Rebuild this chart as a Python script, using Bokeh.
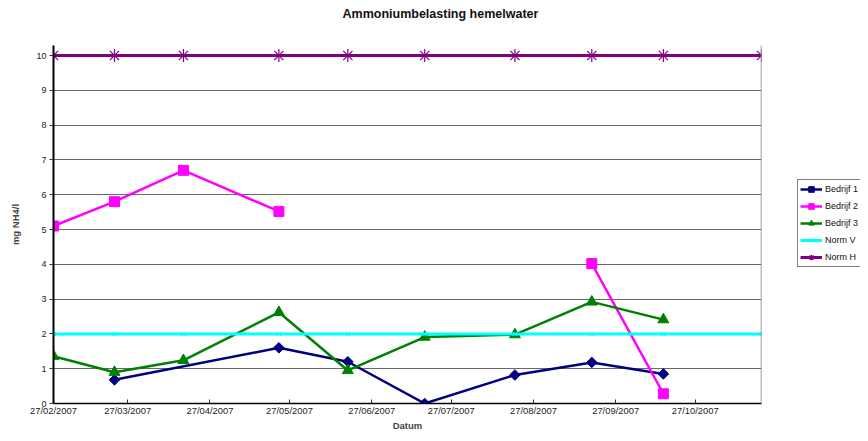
import math
import pandas as pd
from bokeh.plotting import figure
from bokeh.layouts import row
from bokeh.models import (Range1d, FixedTicker, DatetimeTickFormatter, Legend,
                          LegendItem, Title, Span)
from bokeh.embed import file_html
from bokeh.resources import INLINE

# ---------------- data ----------------
chart_title = "Ammoniumbelasting hemelwater"
x_label = "Datum"
y_label = "mg NH4/l"

b1_dates = ["2007-03-22", "2007-05-23", "2007-06-18", "2007-07-17",
            "2007-08-20", "2007-09-18", "2007-10-15"]
b1_vals = [0.68, 1.60, 1.20, 0.00, 0.82, 1.18, 0.85]

b2_dates = ["2007-02-27", "2007-03-22", "2007-04-17", "2007-05-23",
            "2007-06-18", "2007-09-18", "2007-10-15"]
b2_vals = [5.10, 5.80, 6.70, 5.52, float("nan"), 4.02, 0.28]

b3_dates = ["2007-02-27", "2007-03-22", "2007-04-17", "2007-05-23",
            "2007-06-18", "2007-07-17", "2007-08-20", "2007-09-18",
            "2007-10-15"]
b3_vals = [1.36, 0.90, 1.24, 2.62, 0.95, 1.91, 1.98, 2.92, 2.41]

norm_dates = ["2007-02-27", "2007-03-22", "2007-04-17", "2007-05-23",
              "2007-06-18", "2007-07-17", "2007-08-20", "2007-09-18",
              "2007-10-15", "2007-11-21"]
normv_vals = [2, 2, 2, 2, 2, 2, 2, 2, 2, 2]
normh_vals = [10, 10, 10, 10, 10, 10, 10, 10, 10, 10]

x_tick_dates = ["2007-02-27", "2007-03-27", "2007-04-27", "2007-05-27",
                "2007-06-27", "2007-07-27", "2007-08-27", "2007-09-27",
                "2007-10-27"]
y_ticks = [0, 1, 2, 3, 4, 5, 6, 7, 8, 9, 10]

series_names = ["Bedrijf 1", "Bedrijf 2", "Bedrijf 3", "Norm V", "Norm H"]
series_colors = ["#000080", "#FF00FF", "#008000", "#00FFFF", "#800080"]


def to_dt(lst):
    return pd.to_datetime(lst)


def to_ms(lst):
    return [pd.Timestamp(d).timestamp() * 1000.0 for d in lst]


FONT = "Liberation Sans"
W_MAIN, W_LEG, H = 790, 70, 433
FRAME_L, FRAME_R, FRAME_T0, FRAME_B = 53, 761, 55, 403
unit_px = (FRAME_B - FRAME_T0) / (y_ticks[-1] - y_ticks[0])
top_pad_px = 10                       # room so the top markers are not cut
y_end = y_ticks[-1] + top_pad_px / unit_px

x_end_ms = to_ms([norm_dates[-1]])[0]

p = figure(width=W_MAIN, height=H, x_axis_type="datetime",
           output_backend="svg", toolbar_location=None,
           x_range=Range1d(start=to_ms([x_tick_dates[0]])[0], end=x_end_ms),
           y_range=Range1d(start=y_ticks[0], end=y_end),
           min_border_left=FRAME_L, min_border_right=W_MAIN - FRAME_R,
           min_border_top=5, min_border_bottom=H - FRAME_B)

p.background_fill_color = "white"
p.border_fill_color = "white"
p.outline_line_color = None

p.xgrid.visible = False
p.ygrid.grid_line_color = "#6a6a6a"
p.ygrid.grid_line_width = 1
p.ygrid.ticker = FixedTicker(ticks=y_ticks)

# right border of the plot area
p.add_layout(Span(location=x_end_ms, dimension="height",
                  line_color="#808080", line_width=1.5))

# y axis
p.yaxis.ticker = FixedTicker(ticks=y_ticks)
p.yaxis.major_tick_out = 4
p.yaxis.major_tick_in = 0
p.yaxis.minor_tick_out = 0
p.yaxis.minor_tick_in = 0
p.yaxis.axis_line_color = "black"
p.yaxis.axis_line_width = 2
p.yaxis.major_tick_line_color = "#333333"
p.yaxis.major_label_text_font = FONT
p.yaxis.major_label_text_font_size = "9px"
p.yaxis.major_label_text_color = "#222222"
p.yaxis.major_label_standoff = 3
p.yaxis.axis_label = y_label
p.yaxis.axis_label_text_font = FONT
p.yaxis.axis_label_text_font_style = "bold"
p.yaxis.axis_label_text_font_size = "9.5px"
p.yaxis.axis_label_standoff = 12

# x axis
p.xaxis.ticker = FixedTicker(ticks=to_ms(x_tick_dates))
fmt = "%d/%m/%Y"
p.xaxis.formatter = DatetimeTickFormatter(
    microseconds=fmt, milliseconds=fmt, seconds=fmt, minsec=fmt,
    minutes=fmt, hourmin=fmt, hours=fmt, days=fmt, months=fmt, years=fmt)
p.xaxis.major_tick_in = 4
p.xaxis.major_tick_out = 0
p.xaxis.minor_tick_in = 0
p.xaxis.minor_tick_out = 0
p.xaxis.axis_line_color = "black"
p.xaxis.axis_line_width = 1.5
p.xaxis.major_tick_line_color = "#333333"
p.xaxis.major_label_text_font = FONT
p.xaxis.major_label_text_font_size = "9.4px"
p.xaxis.major_label_text_color = "#222222"
p.xaxis.major_label_standoff = 1
p.xaxis.axis_label = x_label
p.xaxis.axis_label_text_font = FONT
p.xaxis.axis_label_text_font_style = "bold"
p.xaxis.axis_label_text_font_size = "9.5px"
p.xaxis.axis_label_standoff = 1

# ---- series ----
series = [
    (b1_dates, b1_vals, dict(marker="square", angle=math.pi / 4, size=7.5), 2.5),
    (b2_dates, b2_vals, dict(marker="square", size=10), 2.5),
    (b3_dates, b3_vals, dict(marker="triangle", size=11), 2.5),
    (norm_dates, normv_vals, dict(marker="x", size=6, line_width=1), 3),
    (norm_dates, normh_vals, dict(marker="asterisk", size=13, line_width=1.2), 3),
]

# side figure that only holds the legend (outside the plot area);
# its ranges are far from the data, so its glyphs only show in the legend
q = figure(width=W_LEG, height=H, output_backend="svg", toolbar_location=None,
           x_axis_location=None, y_axis_location=None,
           x_range=Range1d(0, 1), y_range=Range1d(0, 1),
           min_border_left=0, min_border_right=0, min_border_top=0,
           min_border_bottom=0)
q.outline_line_color = None
q.xgrid.visible = False
q.ygrid.visible = False
q.background_fill_color = "white"
q.border_fill_color = "white"

items = []
for (dts, vals, mk, lw), name, col in zip(series, series_names, series_colors):
    p.line(to_dt(dts), vals, line_color=col, line_width=lw)
    p.scatter(to_dt(dts), vals, fill_color=col, line_color=col, **mk)
    ql = q.line(to_dt(dts), vals, line_color=col, line_width=lw)
    qm = q.scatter(to_dt(dts), vals, fill_color=col, line_color=col, **mk)
    items.append(LegendItem(label=name, renderers=[ql, qm]))

legend = Legend(items=items, location=(7, 136))
legend.border_line_color = "black"
legend.border_line_width = 1
legend.background_fill_color = "white"
legend.background_fill_alpha = 1
legend.label_text_font = FONT
legend.label_text_font_size = "9px"
legend.label_text_color = "#111111"
legend.glyph_width = 22
legend.glyph_height = 14
legend.label_height = 14
legend.label_standoff = 3
legend.spacing = 3
legend.padding = 2
legend.margin = 0
q.add_layout(legend, "center")

# title block: spacer nearest the frame, then the title text
spacer = Title(text=" ", text_font=FONT, text_font_size="10px", standoff=4)
main_title = Title(text=chart_title, align="left", offset=289,
                   vertical_align="top", standoff=12, text_font=FONT,
                   text_font_style="bold", text_font_size="12.5px",
                   text_color="#111111")
p.add_layout(spacer, "above")
p.add_layout(main_title, "above")

layout = row(p, q, spacing=0)
open("out.html", "w").write(file_html(layout, INLINE))
